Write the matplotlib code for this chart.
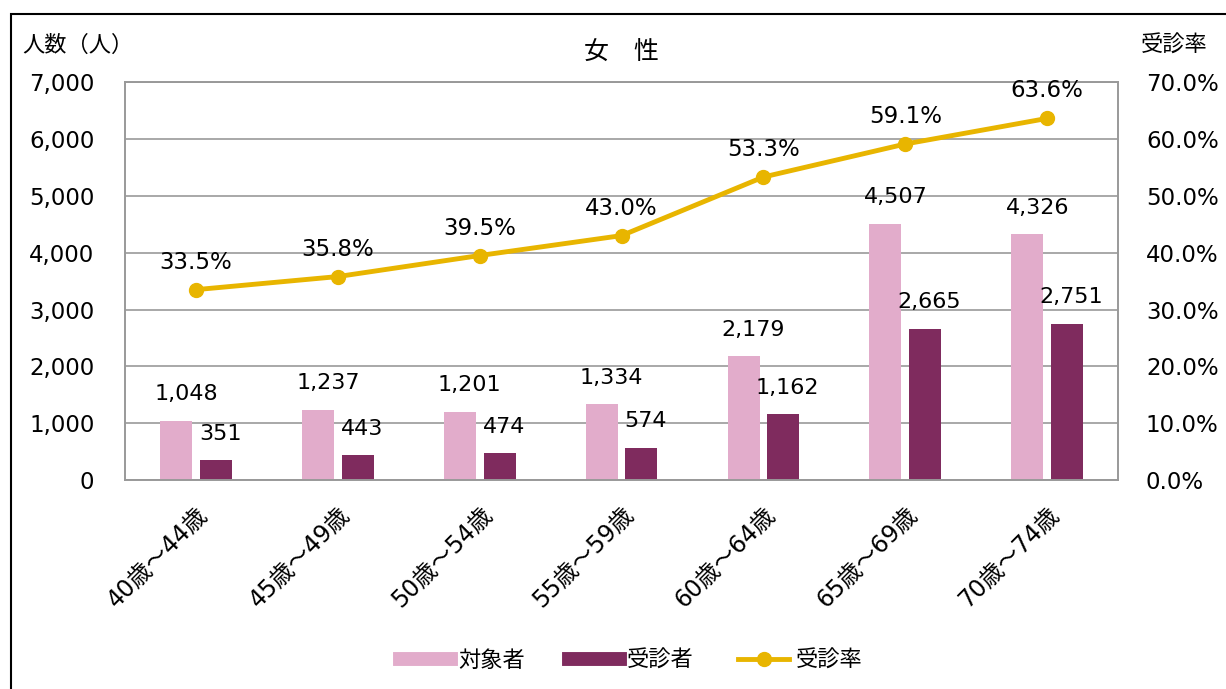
import matplotlib.pyplot as plt
import numpy as np
from matplotlib.lines import Line2D
from matplotlib.patches import Rectangle

plt.rcParams['font.family'] = ['DejaVu Sans', 'Noto Sans CJK JP']

# data
categories = ["40歳～44歳", "45歳～49歳", "50歳～54歳", "55歳～59歳",
              "60歳～64歳", "65歳～69歳", "70歳～74歳"]
targets = [1048, 1237, 1201, 1334, 2179, 4507, 4326]
examined = [351, 443, 474, 574, 1162, 2665, 2751]
rates = [33.5, 35.8, 39.5, 43.0, 53.3, 59.1, 63.6]

pink = "#E2ACCB"
plum = "#7F2B5E"
gold = "#E8B500"

fig = plt.figure(figsize=(12.26, 6.89), dpi=100)
ax = fig.add_axes([0.102, 0.303, 0.810, 0.578])
ax2 = ax.twinx()

x = np.arange(len(categories))
w = 0.225
off = 0.14
ax.bar(x - off, targets, w, color=pink, zorder=2)
ax.bar(x + off, examined, w, color=plum, zorder=2)

for xi, t, e in zip(x, targets, examined):
    ax.text(xi - off + 0.07, t + 290, f"{t:,}", ha="center", va="bottom", fontsize=16)
    ax.text(xi + off + 0.03, e + 290, f"{e:,}", ha="center", va="bottom", fontsize=16)

ax.set_ylim(0, 7000)
ax.set_yticks(range(0, 7001, 1000))
ax.set_yticklabels([f"{v:,}" for v in range(0, 7001, 1000)], fontsize=16.5)
ax.set_xlim(-0.5, len(categories) - 0.5)
ax.set_xticks(x)
ax.set_xticklabels(categories, rotation=45, ha="right", va="top",
                   rotation_mode="anchor", fontsize=17)
ax.tick_params(axis="both", length=0)
ax.tick_params(axis="y", pad=22)
ax.tick_params(axis="x", pad=16)
ax.grid(axis="y", color="#999999", linewidth=1.2, zorder=0)
ax.set_axisbelow(True)

ax2.plot(x, rates, color=gold, linewidth=3.5, marker="o", markersize=10, zorder=3)
for xi, r in zip(x, rates):
    ax2.text(xi, r + 2.8, f"{r:.1f}%", ha="center", va="bottom", fontsize=16.5)
ax2.set_ylim(0, 70)
ax2.set_yticks(range(0, 71, 10))
ax2.set_yticklabels([f"{v:.1f}%" for v in range(0, 71, 10)], fontsize=16.5)
ax2.tick_params(axis="y", length=0, pad=20)

for a in (ax, ax2):
    for s in a.spines.values():
        s.set_color("#999999")
        s.set_linewidth(1.2)

ax2.patch.set_visible(False)

fig.text(0.507, 0.924, "女　性", ha="center", va="center", fontsize=18)
fig.text(0.018, 0.935, "人数（人）", ha="left", va="center", fontsize=16)
fig.text(0.958, 0.935, "受診率", ha="center", va="center", fontsize=16)

handles = [Line2D([], [], color=pink, linewidth=10),
           Line2D([], [], color=plum, linewidth=10),
           Line2D([], [], color=gold, linewidth=3.5, marker="o", markersize=10)]
fig.legend(handles, ["対象者", "受診者", "受診率"], loc="center",
           bbox_to_anchor=(0.515, 0.042), ncol=3, frameon=False, fontsize=16,
           handlelength=2.3, columnspacing=2.0, handletextpad=0.3)

fig.patches.append(Rectangle((0.009, -0.05), 1.5, 1.03, transform=fig.transFigure,
                             fill=False, edgecolor="black", linewidth=1.5))

fig.savefig("out.png", dpi=100)
